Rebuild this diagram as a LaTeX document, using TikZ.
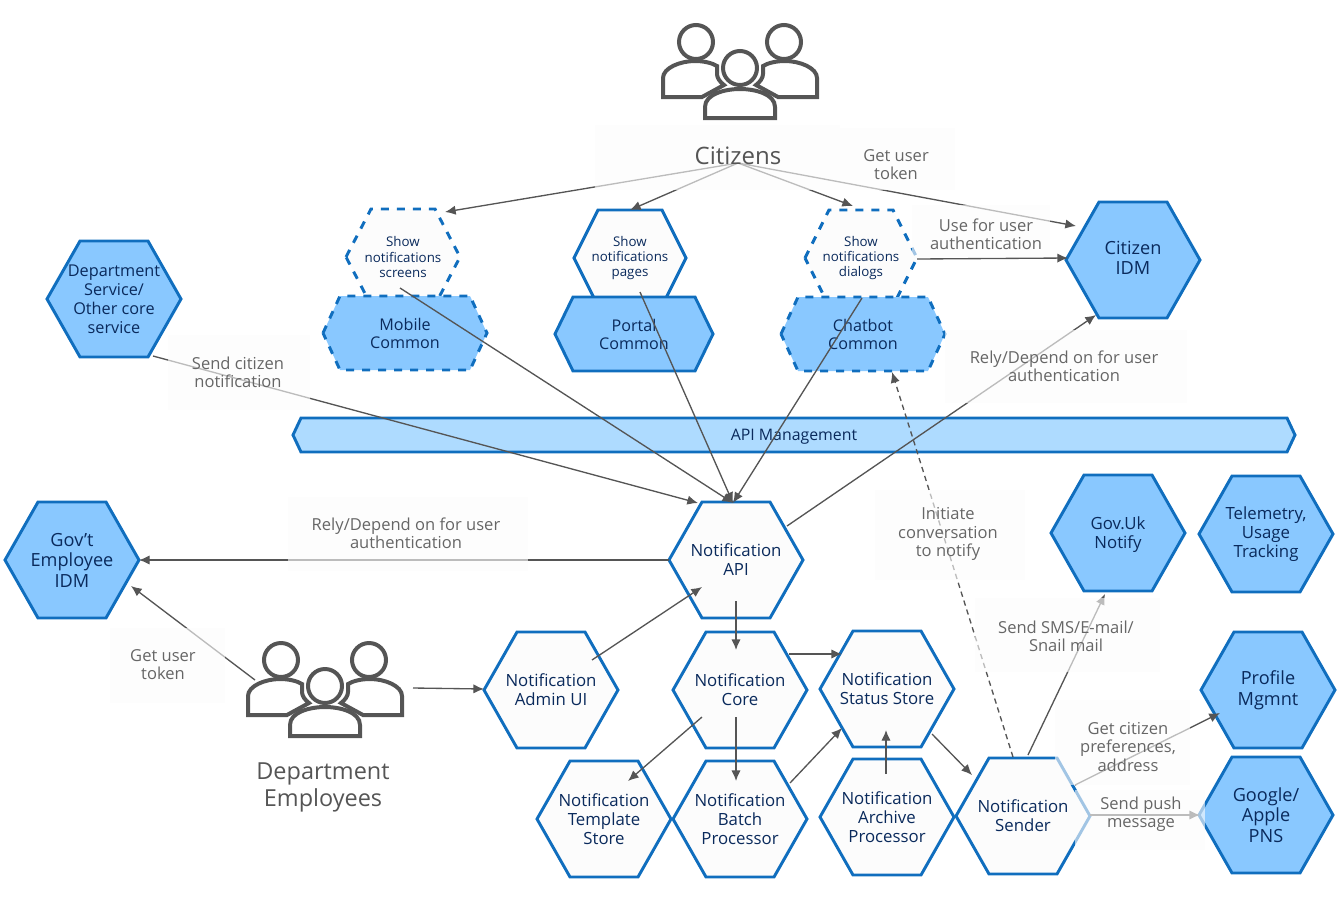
\documentclass[tikz,border=0pt]{standalone}
\usepackage{fontspec}
\setmainfont{Open Sans}
\usetikzlibrary{arrows.meta}
\definecolor{hexedge}{HTML}{106EBE}
\definecolor{hexblue}{HTML}{89C8FF}
\definecolor{apiblue}{HTML}{AEDBFF}
\definecolor{hexpale}{HTML}{FCFCFC}
\definecolor{navy}{HTML}{0A2A5C}
\definecolor{labelgrey}{HTML}{666666}
\definecolor{icongrey}{HTML}{555555}
\newcommand{\fs}[2]{\fontsize{#1}{#2}\selectfont}
% name, cx, cy, half width, half height, inset, shape style, text style, text
\newcommand{\hexcell}[9]{%
  \path[#7] ({#2-#4},#3) -- ({#2-#4+#6},{#3-#5}) -- ({#2+#4-#6},{#3-#5}) -- ({#2+#4},#3)
     -- ({#2+#4-#6},{#3+#5}) -- ({#2-#4+#6},{#3+#5}) -- cycle;
  \node[hextext,#8] (#1) at (#2,#3) {#9};}
\tikzset{
  x=0.75pt,y=-0.75pt,
  hexwhite/.style={draw=hexedge,line width=2.2pt,fill=hexpale,line join=miter},
  hexfull/.style={draw=hexedge,line width=2.2pt,fill=hexblue,line join=miter},
  hexdash/.style={hexwhite,dash pattern=on 6pt off 6pt},
  hexfulldash/.style={hexfull,dash pattern=on 6pt off 6pt},
  hexapi/.style={draw=hexedge,line width=2.2pt,fill=apiblue,line join=miter},
  hextext/.style={align=center,text=navy,inner sep=0pt},
  tmid/.style={font=\fs{12.6}{14.2}},
  tdept/.style={font=\fs{12.2}{14.2}},
  tsmall/.style={font=\fs{10}{11.3}},
  tlarge/.style={font=\fs{13.6}{15.4}},
  tcommon/.style={font=\fs{12.1}{13.5}},
  tapi/.style={font=\fs{11.9}{13},yshift=-1.5pt},
  conn/.style={draw=icongrey,line width=1pt,-{Latex[length=8pt,width=7pt]}},
  conndash/.style={conn,dash pattern=on 4pt off 3pt},
  fadebox/.style={fill=hexpale,fill opacity=0.62},
  lbl/.style={align=center,text=labelgrey,inner sep=0pt,font=\fs{12.4}{13.6}},
  biglbl/.style={lbl,text=icongrey},
  person/.style={draw=icongrey,line width=3pt,line join=miter},
  people/.pic={
    \draw[person] (-44,-28) circle[radius=17];
    \draw[person] (44,-28) circle[radius=17];
    \draw[person] (0,-2) circle[radius=17];
    \draw[person] (-38,27) -- (-77,27) -- (-77,8) .. controls (-77,-2) and (-60,-9) .. (-45,-9)
       .. controls (-36,-9) and (-28,-7) .. (-23,-4) -- (-23,4) .. controls (-23,8) and (-20,12) .. (-16,15) -- cycle;
    \draw[person] (38,27) -- (77,27) -- (77,8) .. controls (77,-2) and (60,-9) .. (45,-9)
       .. controls (36,-9) and (28,-7) .. (23,-4) -- (23,4) .. controls (23,8) and (20,12) .. (16,15) -- cycle;
    \draw[person] (-35,48) -- (-35,37) .. controls (-35,24) and (-15,19) .. (0,19)
       .. controls (15,19) and (35,24) .. (35,37) -- (35,48) -- cycle;
  }
}
\begin{document}
\begin{tikzpicture}
\useasboundingbox (0,0) rectangle (1342,900);
\pic at (740,70) {people};
\pic at (325,688) {people};

\hexcell{deptsvc}{114}{299}{67}{58}{33}{hexfull}{tdept}{Department\\Service/\\Other core\\service}
\hexcell{citidm}{1133}{260}{67}{58}{33}{hexfull}{tlarge,yshift=1.5pt}{Citizen\\IDM}
\hexcell{govidm}{72}{560}{67}{58}{33}{hexfull}{tlarge}{Gov’t\\Employee\\IDM}
\hexcell{screens}{403}{257}{57}{48}{25}{hexdash}{tsmall}{Show\\notifications\\screens}
\hexcell{pages}{630}{258}{56}{48}{24}{hexwhite}{tsmall}{Show\\notifications\\pages}
\hexcell{dialogs}{861}{258}{56}{48}{24}{hexdash}{tsmall}{Show\\notifications\\dialogs}
\hexcell{mobile}{405}{333}{82}{37}{17}{hexfulldash}{tcommon}{Mobile\\Common}
\hexcell{portal}{634}{334}{79}{37}{18}{hexfull}{tcommon}{Portal\\Common}
\hexcell{chatbot}{863}{334}{82}{37}{17}{hexfulldash}{tcommon}{Chatbot\\Common}
\hexcell{apimgmt}{794}{435}{501}{17}{8}{hexapi}{tapi}{API Management}
\hexcell{api}{736}{560}{67}{58}{33}{hexwhite}{tmid}{Notification\\API}
\hexcell{admin}{551}{690}{67}{58}{33}{hexwhite}{tmid}{Notification\\Admin UI}
\hexcell{core}{740}{690}{67}{58}{33}{hexwhite}{tmid}{Notification\\Core}
\hexcell{status}{887}{689}{67}{58}{33}{hexwhite}{tmid}{Notification\\Status Store}
\hexcell{template}{604}{819}{67}{58}{33}{hexwhite}{tmid}{Notification\\Template\\Store}
\hexcell{batch}{740}{819}{67}{58}{33}{hexwhite}{tmid}{Notification\\Batch\\Processor}
\hexcell{archive}{887}{817}{67}{58}{33}{hexwhite}{tmid}{Notification\\Archive\\Processor}
\hexcell{sender}{1023}{816}{67}{58}{33}{hexwhite}{tmid}{Notification\\Sender}
\hexcell{govuk}{1118}{533}{67}{58}{33}{hexfull}{tmid,yshift=-1.5pt}{Gov.Uk\\Notify}
\hexcell{telemetry}{1266}{534}{67}{58}{33}{hexfull}{tmid}{Telemetry,\\Usage\\Tracking}
\hexcell{profile}{1268}{690}{67}{58}{33}{hexfull}{tlarge,font=\fs{13.6}{16}}{Profile\\Mgmnt}
\hexcell{google}{1266}{815}{67}{58}{33}{hexfull}{tlarge}{Google/\\Apple\\PNS}

\coordinate (citizensfoot) at (738,163);
\coordinate (employeesfoot) at (413,688);
\coordinate (employeesside) at (255,680);

\draw[conn] (citizensfoot) -- ([shift={(42,-45)}]screens.center);
\draw[conn] (citizensfoot) -- ([shift={(0,-48)}]pages.center);
\draw[conn] (citizensfoot) -- ([shift={(-8,-52)}]dialogs.center);
\draw[conn] (citizensfoot) -- ([shift={(-57,-32)}]citidm.center);
\draw[conn] ([shift={(56,1)}]dialogs.center) -- ([shift={(-65,0)}]citidm.center);
\draw[conn] ([shift={(-3,31)}]screens.center) -- ([shift={(-3,-57)}]api.center);
\draw[conn] ([shift={(10,34)}]pages.center) -- ([shift={(-3,-57)}]api.center);
\draw[conn] ([shift={(1,40)}]dialogs.center) -- ([shift={(-3,-57)}]api.center);
\draw[conn] ([shift={(39,57)}]deptsvc.center) -- ([shift={(-38,-57)}]api.center);
\draw[conn] ([shift={(51,-34)}]api.center) -- ([shift={(-37,57)}]citidm.center);
\draw[conn] ([shift={(-67,0)}]api.center) -- ([shift={(67,0)}]govidm.center);
\draw[conn] (employeesside) -- ([shift={(59,26)}]govidm.center);
\draw[conn] (employeesfoot) -- ([shift={(-67,-1)}]admin.center);
\draw[conn] ([shift={(41,-30)}]admin.center) -- ([shift={(-34,27)}]api.center);
\draw[conn] ([shift={(0,41)}]api.center) -- ([shift={(-4,-40)}]core.center);
\draw[conn] ([shift={(49,-36)}]core.center) -- ([shift={(-45,-35)}]status.center);
\draw[conn] ([shift={(-38,27)}]core.center) -- ([shift={(24,-38)}]template.center);
\draw[conn] ([shift={(-4,27)}]core.center) -- ([shift={(-4,-38)}]batch.center);
\draw[conn] ([shift={(50,-36)}]batch.center) -- ([shift={(-45,39)}]status.center);
\draw[conn] ([shift={(-1,-43)}]archive.center) -- ([shift={(-1,41)}]status.center);
\draw[conn] ([shift={(45,45)}]status.center) -- ([shift={(-51,-41)}]sender.center);
\draw[conndash] ([shift={(-10,-59)}]sender.center) -- ([shift={(29,38)}]chatbot.center);
\draw[conn] ([shift={(5,-61)}]sender.center) -- ([shift={(-13,59)}]govuk.center);
\draw[conn] ([shift={(52,-31)}]sender.center) -- ([shift={(-48,23)}]profile.center);
\draw[conn] ([shift={(67,-1)}]sender.center) -- ([shift={(-66,0)}]google.center);

\fill[fadebox] (595,125) rectangle (840,190);
\fill[fadebox] (840,128) rectangle (955,190);
\fill[fadebox] (912,205) rectangle (1050,257);
\fill[fadebox] (168,335) rectangle (310,410);
\fill[fadebox] (945,330) rectangle (1187,403);
\fill[fadebox] (288,497) rectangle (528,571);
\fill[fadebox] (875,490) rectangle (1025,580);
\fill[fadebox] (110,628) rectangle (225,703);
\fill[fadebox] (975,598) rectangle (1160,672);
\fill[fadebox] (1055,700) rectangle (1190,785);
\fill[fadebox] (1075,790) rectangle (1205,850);

\node[biglbl,font=\fs{18}{21}] (citizens) at (738,156) {Citizens};
\node[biglbl,font=\fs{17.6}{20.3}] (employees) at (323,787) {Department\\Employees};
\node[lbl] (lblgettoken) at (896,165) {Get user\\token};
\node[lbl] (lbluseauth) at (986,234) {Use for user\\authentication};
\node[lbl] (lblsend) at (238,372) {Send citizen\\notification};
\node[lbl] (lblrelycit) at (1064,366) {Rely/Depend on for user\\authentication};
\node[lbl] (lblrelygov) at (406,533) {Rely/Depend on for user\\authentication};
\node[lbl] (lblinitiate) at (948,534) {Initiate\\conversation\\to notify};
\node[lbl] (lblgettokentwo) at (163,665) {Get user\\token};
\node[lbl] (lblsms) at (1066,636) {Send SMS/E-mail/\\Snail mail};
\node[lbl] (lblprefs) at (1128,747) {Get citizen\\preferences,\\address};
\node[lbl] (lblpush) at (1141,814) {Send push\\message};
\end{tikzpicture}
\end{document}
